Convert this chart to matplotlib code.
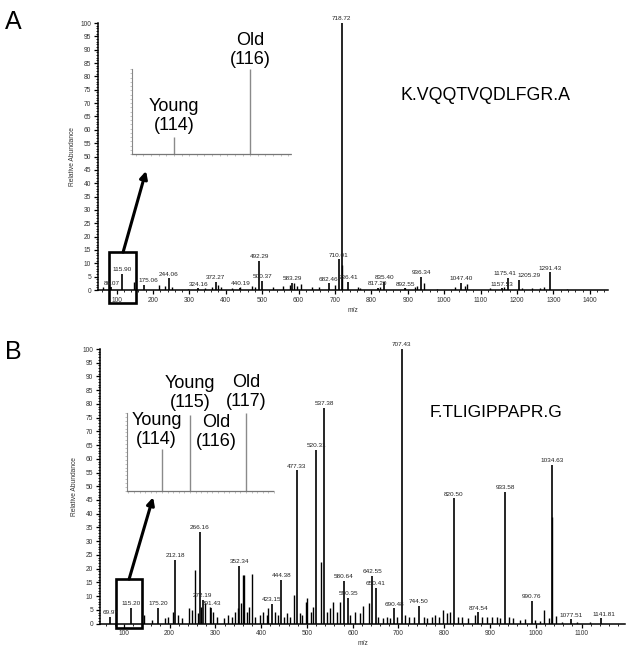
import numpy as np
import matplotlib
matplotlib.use('Agg')
from matplotlib import pyplot as plt
from matplotlib.patches import Rectangle
from matplotlib.ticker import MultipleLocator

plt.rcParams['font.family'] = ['Liberation Sans', 'DejaVu Sans']

# panel A : K.VQQTVQDLFGR.A  (labelled peaks)
mzA_lab = [86.07, 115.90, 175.06, 244.06, 324.16, 372.27, 440.19, 492.29, 500.37,
           583.29, 682.46, 710.01, 718.72, 736.41, 817.20, 835.40, 892.55, 936.34,
           1047.40, 1157.53, 1175.41, 1205.29, 1291.43]
intA_lab = [1.0, 6.0, 2.0, 4.4, 0.6, 3.1, 0.8, 10.9, 3.4,
            2.7, 2.5, 11.5, 100, 3.1, 0.7, 3.1, 0.6, 5.0,
            2.8, 0.6, 4.6, 3.9, 6.6]
# panel A unlabelled peaks
mzA = [64, 148, 217, 233, 253, 297, 343, 361, 378, 387, 416, 439, 471, 480, 531,
       558, 577, 588, 595, 606, 636, 655, 700, 719.72, 764, 769, 824, 893, 920, 926,
       945, 980, 1030, 1057, 1064, 1126, 1163, 1213, 1241, 1263, 1274, 1337]
intA = [1.0, 3.0, 1.9, 1.5, 1.0, 0.5, 0.6, 1.0, 1.9, 1.2, 0.7, 1.0, 1.5, 1.0, 1.0,
        1.6, 1.9, 2.5, 1.6, 2.2, 1.0, 1.2, 1.9, 9.4, 1.2, 0.6, 1.2, 0.6, 1.2, 1.5,
        2.5, 0.5, 1.0, 1.5, 2.2, 0.7, 1.0, 0.7, 0.7, 0.7, 1.0, 0.5]
# panel A inset (reporter ions)
insA_mz = [114, 116]
insA_int = [20, 100]

# panel B : F.TLIGIPPAPR.G  (labelled peaks)
mzB_lab = [69.97, 115.20, 175.20, 212.18, 266.16, 272.19, 291.43, 352.34, 423.15,
           444.38, 477.33, 520.31, 537.38, 580.64, 590.35, 642.55, 650.41, 690.48,
           707.43, 744.50, 820.50, 874.54, 933.58, 990.76, 1034.63, 1077.51, 1141.81]
intB_lab = [2.5, 5.8, 5.8, 23.1, 33.4, 8.6, 5.6, 21.0, 7.1,
            15.8, 55.8, 63.2, 78.6, 15.5, 9.4, 17.4, 13.0, 5.5,
            100, 6.4, 45.6, 4.1, 48.0, 8.2, 57.7, 1.5, 1.9]
# panel B unlabelled peaks
mzB = [145, 161, 190, 197, 208, 219, 228, 243, 248, 256, 261, 269, 278, 289, 294,
       303, 318, 327, 336, 343, 349, 356, 360, 363.6, 369, 374, 380, 387, 398, 405,
       412, 416, 431, 436, 449, 456, 462, 472, 485, 490, 498, 500.5, 509, 514, 529.7,
       544, 551, 558, 565, 572.7, 594, 605, 616, 622, 634.6, 656, 667, 675, 681, 697,
       715, 722, 733, 755, 762, 773, 780, 788, 798, 806, 813, 831, 839, 853, 868,
       882, 893, 904, 915, 922, 941, 951, 966, 977, 999, 1010, 1017, 1028, 1036.5,
       1045, 1057, 1090, 1119]
intB = [3.1, 1.3, 1.9, 2.2, 4.3, 3.1, 1.9, 5.5, 4.9, 19.5, 3.7, 6.1, 7.3, 6.0, 4.3,
        2.5, 1.9, 3.1, 2.5, 4.3, 5.5, 7.3, 17.7, 17.7, 4.3, 6.1, 18.2, 2.5, 3.1, 4.3,
        3.1, 5.5, 4.3, 3.1, 2.5, 3.7, 2.5, 10.4, 3.7, 3.1, 7.8, 9.3, 4.3, 6.1, 22.5,
        4.3, 5.5, 8.0, 4.3, 8.0, 3.1, 4.3, 3.7, 6.3, 7.5, 2.5, 1.9, 2.5, 1.9, 2.5,
        3.1, 2.5, 2.2, 2.5, 1.9, 2.5, 3.1, 2.5, 4.9, 3.7, 4.3, 2.5, 2.2, 1.9, 3.1,
        2.5, 2.2, 2.5, 2.2, 1.9, 2.2, 1.9, 1.3, 1.5, 1.3, 1.0, 5.0, 1.9, 38.9,
        2.8, 0.7, 0.5, 0.5]
# panel B inset (reporter ions)
insB_mz = [114, 115, 116, 117]
insB_int = [54, 97, 0, 100]

# label nudges (points) where the instrument moved a label sideways
nudge = {1205.29: 7, 175.06: 3, 1175.41: -2, 1141.81: 2}


def spectrum(ax, mz, inten, mzl, intl, xlim):
  ax.vlines(mz, 0, inten, colors='k', lw=1.0)
  ax.vlines(mzl, 0, intl, colors='k', lw=1.2)
  for m, h in zip(mzl, intl):
    ax.annotate('%.2f' % m, (m, h), xytext=(nudge.get(m, 0), 1.2), textcoords='offset points',
                ha='center', va='bottom', fontsize=4.6, color='#222',
                annotation_clip=False)
  ax.set_xlim(xlim)
  ax.set_ylim(0, 100)
  for s in ['top', 'right']:
    ax.spines[s].set_visible(False)
  for s in ['left', 'bottom']:
    ax.spines[s].set_linewidth(1.1)
  ax.yaxis.set_major_locator(MultipleLocator(5))
  ax.yaxis.set_minor_locator(MultipleLocator(1))
  ax.xaxis.set_major_locator(MultipleLocator(100))
  ax.xaxis.set_minor_locator(MultipleLocator(20))
  ax.tick_params(which='major', length=3, width=0.9, pad=2, labelsize=4.8, labelcolor='#333')
  ax.tick_params(which='minor', length=1.6, width=0.6)
  ax.set_ylabel('Relative Abundance', fontsize=4.8, color='#333', labelpad=3)
  ax.set_xlabel('m/z', fontsize=4.8, color='#333', labelpad=2)


def inset(rect, mz, inten, xlim):
  ai = fig.add_axes(rect)
  ai.vlines(mz, 0, inten, colors='#8a8a8a', lw=1.0)
  ai.set_xlim(xlim)
  ai.set_ylim(0, 100)
  for s in ['top', 'right']:
    ai.spines[s].set_visible(False)
  ai.spines['left'].set_color('#888')
  ai.spines['left'].set_linewidth(0.8)
  ai.spines['bottom'].set_color('#777')
  ai.spines['bottom'].set_linewidth(0.9)
  ai.spines['bottom'].set_linestyle((0, (1, 1)))
  ai.xaxis.set_major_locator(MultipleLocator(1))
  ai.xaxis.set_minor_locator(MultipleLocator(0.2))
  ai.yaxis.set_major_locator(MultipleLocator(10))
  ai.yaxis.set_minor_locator(MultipleLocator(5))
  ai.tick_params(which='both', length=1.2, width=0.5, color='#aaa',
                 labelbottom=False, labelleft=False)
  ai.patch.set_alpha(0)
  return ai


fig = plt.figure(figsize=(6.29, 6.51), dpi=100)

# ---- panel A
axA = fig.add_axes([0.1558, 0.5545, 0.8108, 0.4101])
spectrum(axA, mzA, intA, mzA_lab, intA_lab, (49, 1450))
axA.add_patch(Rectangle((79, -4.9), 75, 19.1, fill=False, lw=1.9, ec='k', clip_on=False))
axA.annotate('', xy=(181, 44.6), xytext=(118, 14.2),
             arrowprops=dict(arrowstyle='-|>', lw=2.2, color='k', mutation_scale=11,
                             shrinkA=0, shrinkB=0))
axA.text(0.76, 0.73, 'K.VQQTVQDLFGR.A', transform=axA.transAxes, ha='center',
         va='center', fontsize=12.8)

aiA = inset([0.2099, 0.7634, 0.2544, 0.1306], insA_mz, insA_int, (112.9, 117.1))
aiA.text(insA_mz[0], insA_int[0] + 4, 'Young\n(114)', ha='center', va='bottom',
         fontsize=13, linespacing=1.15)
aiA.text(insA_mz[1], insA_int[1] + 1, 'Old\n(116)', ha='center', va='bottom',
         fontsize=13, linespacing=1.15)

# ---- panel B
axB = fig.add_axes([0.159, 0.0422, 0.8347, 0.4217])
spectrum(axB, mzB, intB, mzB_lab, intB_lab, (48, 1195))
axB.add_patch(Rectangle((83, -1.7), 57, 17.9, fill=False, lw=1.9, ec='k', clip_on=False))
axB.annotate('', xy=(164, 46), xytext=(111.6, 16.2),
             arrowprops=dict(arrowstyle='-|>', lw=2.2, color='k', mutation_scale=11,
                             shrinkA=0, shrinkB=0))
axB.text(0.755, 0.77, 'F.TLIGIPPAPR.G', transform=axB.transAxes, ha='center',
         va='center', fontsize=12.5)

aiB = inset([0.2019, 0.2458, 0.2337, 0.1198], insB_mz, insB_int, (112.75, 118))
aiB.text(insB_mz[0] - 0.2, insB_int[0] + 1, 'Young\n(114)', ha='center', va='bottom',
         fontsize=13, linespacing=1.15)
aiB.text(insB_mz[1], insB_int[1] + 6, 'Young\n(115)', ha='center', va='bottom',
         fontsize=13, linespacing=1.15)
aiB.text(insB_mz[2] - 0.05, 52, 'Old\n(116)', ha='center', va='bottom',
         fontsize=13, linespacing=1.15)
aiB.text(insB_mz[3], insB_int[3] + 4, 'Old\n(117)', ha='center', va='bottom',
         fontsize=13, linespacing=1.15)

fig.text(0.008, 0.985, 'A', fontsize=18, va='top', ha='left')
fig.text(0.008, 0.478, 'B', fontsize=18, va='top', ha='left')

fig.savefig('out.png', dpi=100)
